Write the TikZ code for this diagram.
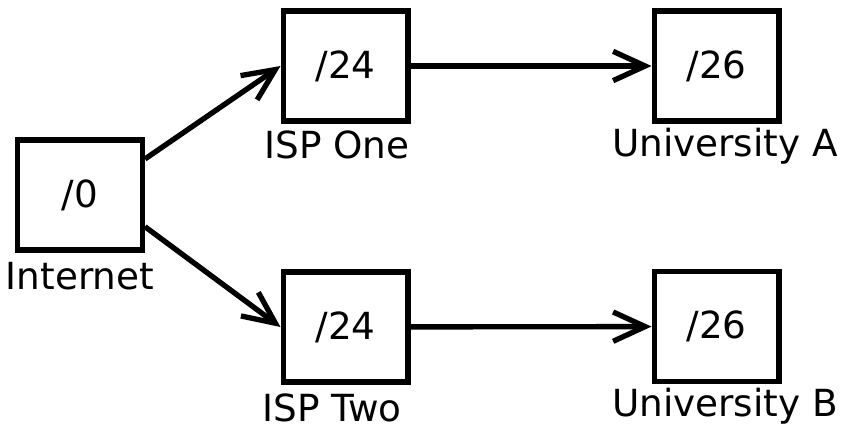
\documentclass[tikz,border=0pt]{standalone}
\usepackage{fontspec}
\setmainfont{DejaVu Sans}
\usetikzlibrary{arrows.meta}
\tikzset{
  netbox/.style={draw, line width=4pt, minimum width=93.5pt, minimum height=82.5pt, inner sep=0pt},
  netlabel/.style={anchor=base, inner sep=0pt},
  route/.style={line width=4pt, -{Straight Barb[length=24pt,width=22pt]}}
}
\begin{document}
\begin{tikzpicture}[x=0.75pt,y=-0.75pt,font=\fontsize{28}{34}\selectfont]
                \useasboundingbox (0,0) rectangle (841,428);
                \node[netbox] (inet) at (80,195) {/0};
                \node[netbox] (ispone) at (345.5,66) {/24};
                \node[netbox] (unia) at (716.5,66) {/26};
                \node[netbox] (isptwo) at (345.5,327) {/24};
                \node[netbox] (unib) at (716.5,326.5) {/26};

                \node[netlabel] (inetlbl) at (80,289) {Internet};
                \node[netlabel] (isponelbl) at (337,158) {ISP One};
                \node[netlabel] (unialbl) at (725,156) {University A};
                \node[netlabel] (isptwolbl) at (332,421) {ISP Two};
                \node[netlabel] (uniblbl) at (725,416) {University B};

                \draw[route] (inet.29) to (ispone.west); \draw[route] (ispone) to (unia);
                \draw[route] (inet.-26) to (isptwo.west); \draw[route] (isptwo) to (unib);
            \end{tikzpicture}
\end{document}
